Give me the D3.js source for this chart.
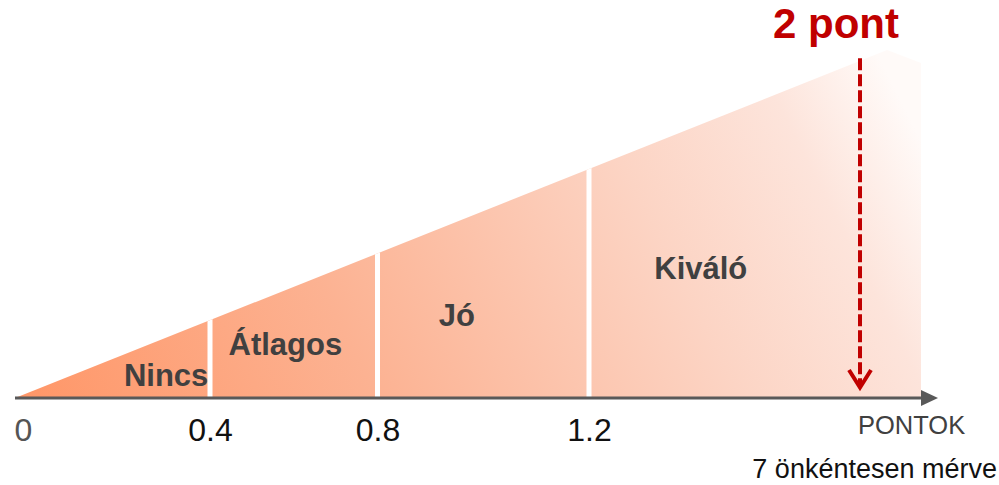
<!DOCTYPE html>
<html>
<head>
<meta charset="utf-8">
<script src="https://cdn.jsdelivr.net/npm/d3@7"></script>
<style>
  html, body { margin: 0; padding: 0; background: #fff; }
  svg { display: block; font-family: 'Liberation Sans', Arial, sans-serif; }
</style>
</head>
<body>
<script>
// data
const tickValues = [0, 0.4, 0.8, 1.2]
const tickLabels = ['0', '0.4', '0.8', '1.2']
const categories = ['Nincs', 'Átlagos', 'Jó', 'Kiváló']
const bandEdges = [0.4, 0.8, 1.2]
const score = 2
const scoreLabel = '2 pont'
// outline of the wedge: [points, height]
const wedgeX = [0, 2.08, 2.18, 2.18]
const wedgeY = [0, 99.4, 95.7, 0]

// label anchors (layout only)
const labelPos = [
  [0.31, 3.4],
  [0.58, 12.3],
  [0.95, 20.6],
  [1.53, 34]
]

const w = 999
const h = 485

const xScale = d3
  .scaleLinear()
  .domain([0, 0.4, 0.8, 1.2, 2])
  .range([15, 210, 377.5, 589, 860])

const yScale = d3.scaleLinear().domain([0, 100]).range([398, 48])

const svg = d3.select('body').append('svg').attr('width', w).attr('height', h)

const defs = svg.append('defs')
const grad = defs
  .append('linearGradient')
  .attr('id', 'fade')
  .attr('gradientUnits', 'userSpaceOnUse')
  .attr('x1', 15)
  .attr('y1', 398)
  .attr('x2', 840)
  .attr('y2', -20)
const stops = [
  [0, 'rgb(255,150,103)'],
  [0.35, 'rgb(252,178,146)'],
  [0.7, 'rgb(252,212,196)'],
  [0.88, 'rgb(253,228,219)'],
  [1, 'rgb(255,250,248)']
]
grad
  .selectAll('stop')
  .data(stops)
  .enter()
  .append('stop')
  .attr('offset', (d) => d[0])
  .attr('stop-color', (d) => d[1])

const wedge = wedgeX.map((x, i) => [xScale(x), yScale(wedgeY[i])])

defs
  .append('clipPath')
  .attr('id', 'wedgeClip')
  .append('polygon')
  .attr('points', wedge.map((p) => p.join(',')).join(' '))

svg
  .append('polygon')
  .attr('points', wedge.map((p) => p.join(',')).join(' '))
  .attr('fill', 'url(#fade)')

// white dividers between the bands
svg
  .append('g')
  .attr('clip-path', 'url(#wedgeClip)')
  .selectAll('line')
  .data(bandEdges)
  .enter()
  .append('line')
  .attr('x1', (d) => xScale(d))
  .attr('x2', (d) => xScale(d))
  .attr('y1', yScale(0))
  .attr('y2', yScale(100))
  .attr('stroke', '#fff')
  .attr('stroke-width', 5)

// category names
svg
  .selectAll('.cat')
  .data(categories)
  .enter()
  .append('text')
  .attr('class', 'cat')
  .attr('x', (d, i) => xScale(labelPos[i][0]))
  .attr('y', (d, i) => yScale(labelPos[i][1]))
  .attr('text-anchor', 'middle')
  .attr('font-size', 31)
  .attr('font-weight', 'bold')
  .attr('fill', '#404040')
  .text((d) => d)

// axis line with arrow
svg
  .append('line')
  .attr('x1', xScale(0))
  .attr('x2', xScale(2.18))
  .attr('y1', yScale(0))
  .attr('y2', yScale(0))
  .attr('stroke', '#595959')
  .attr('stroke-width', 3)
const ax = xScale(2.18)
const ay = yScale(0)
svg
  .append('polygon')
  .attr('points', `${ax},${ay - 8} ${ax + 17},${ay} ${ax},${ay + 8}`)
  .attr('fill', '#595959')

const xAxis = d3
  .axisBottom(xScale)
  .tickValues(tickValues)
  .tickFormat((d, i) => tickLabels[i])
  .tickSize(0)
  .tickPadding(20)

const axisG = svg
  .append('g')
  .attr('transform', `translate(0,${yScale(0)})`)
  .call(xAxis)
axisG.select('.domain').remove()
axisG
  .selectAll('text')
  .attr('font-family', "'Liberation Sans', Arial, sans-serif")
  .attr('font-size', 32)
  .attr('fill', (d) => (d === 0 ? '#555' : '#111'))
  .attr('text-anchor', (d) => (d === 0 ? 'start' : 'middle'))
  .attr('dx', (d) => (d === 0 ? -1 : 0))

svg
  .append('text')
  .attr('x', 858)
  .attr('y', 434)
  .attr('font-size', 25.5)
  .attr('fill', '#404040')
  .text('PONTOK')

svg
  .append('text')
  .attr('x', 997)
  .attr('y', 478)
  .attr('text-anchor', 'end')
  .attr('font-size', 27)
  .attr('fill', '#111')
  .text('7 önkéntesen mérve')

// score marker
const sx = xScale(score)
svg
  .append('line')
  .attr('x1', sx)
  .attr('x2', sx)
  .attr('y1', yScale(97.1))
  .attr('y2', yScale(3.5))
  .attr('stroke', '#C00000')
  .attr('stroke-width', 4)
  .attr('stroke-dasharray', '12,4')
svg
  .append('polyline')
  .attr('points', `${sx - 11},${yScale(8)} ${sx},${yScale(3)} ${sx + 11},${yScale(8)}`)
  .attr('fill', 'none')
  .attr('stroke', '#C00000')
  .attr('stroke-width', 4)

svg
  .append('text')
  .attr('x', 836)
  .attr('y', 38)
  .attr('text-anchor', 'middle')
  .attr('font-size', 42)
  .attr('font-weight', 'bold')
  .attr('fill', '#C00000')
  .text(scoreLabel)
</script>
</body>
</html>
